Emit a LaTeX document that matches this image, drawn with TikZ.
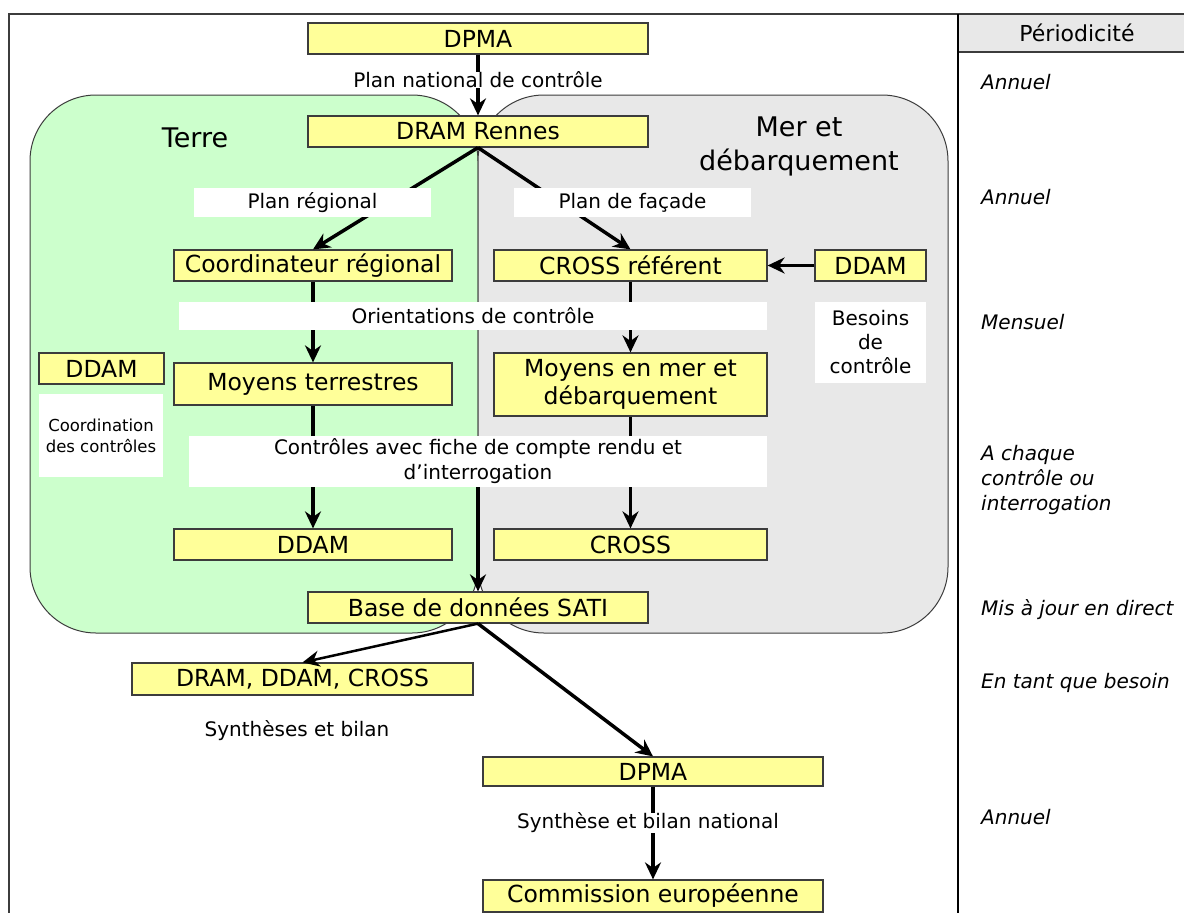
\documentclass[tikz,border=0pt]{standalone}
\usepackage{fontspec}
\setmainfont{DejaVu Sans}
\usetikzlibrary{arrows.meta}

\definecolor{boxyellow}{HTML}{FFFF99}
\definecolor{landgreen}{HTML}{CCFFCC}
\definecolor{seagray}{HTML}{E8E8E8}
\definecolor{edgegray}{HTML}{3C3C3C}

\tikzset{
  ybox/.style={draw=edgegray, line width=1.2pt, fill=boxyellow, inner sep=0pt,
    minimum height=31pt, font=\fontsize{23.5}{28}\selectfont, align=center},
  wbox/.style={fill=white, inner sep=0pt, font=\fontsize{20}{25}\selectfont, align=center},
  period/.style={anchor=west, align=left, inner sep=0pt, font=\fontsize{20}{25}\selectfont\itshape},
  flow/.style={line width=3.5pt, -{Stealth[length=17pt,width=16pt]}},
  zone/.style={draw=edgegray, line width=1pt, rounded corners=66pt},
}

\begin{document}
\begin{tikzpicture}[x=1pt,y=-1pt]
	\useasboundingbox (0,0) rectangle (1184,913);
	\fill[white] (0,0) rectangle (1184,913);
	
	% zones
	\filldraw[zone, fill=landgreen] (30,95) rectangle (478,633);
	\filldraw[zone, fill=seagray] (478,95) rectangle (948,633);
	
	% frame and right column
	\fill[seagray] (958,14) rectangle (1184,52);
	\draw[edgegray, line width=1.3pt] (9,913) -- (9,14) -- (1184,14);
	\draw[edgegray, line width=1.3pt] (958,52) -- (1184,52);
	\draw[line width=2.5pt] (958,14) -- (958,913);
	
	\node[font=\fontsize{27}{33}\selectfont] (terre) at (195,138) {Terre};
	\node[font=\fontsize{27}{34}\selectfont, align=center] (mer) at (799,146) {Mer et\\débarquement};
	
	% boxes
	\node[ybox, minimum width=340pt] (dpma) at (478,38.5) {DPMA};
	\node[ybox, minimum width=340pt] (dram) at (478,131.5) {DRAM Rennes};
	\node[ybox, minimum width=278pt] (coord) at (313,265.5) {Coordinateur régional};
	\node[ybox, minimum width=273pt] (crossref) at (630.5,265.5) {CROSS référent};
	\node[ybox, minimum width=111pt] (ddamr) at (870.5,265.5) {DDAM};
	\node[ybox, minimum width=125pt] (ddaml) at (101.5,368.5) {DDAM};
	\node[ybox, minimum width=278pt, minimum height=42pt] (moyter) at (313,384) {Moyens terrestres};
	\node[ybox, minimum width=273pt, minimum height=63pt] (moymer) at (630.5,384.5) {Moyens en mer et\\débarquement};
	\node[ybox, minimum width=278pt] (ddamb) at (313,544.5) {DDAM};
	\node[ybox, minimum width=273pt] (cross) at (630.5,544.5) {CROSS};
	\node[ybox, minimum width=340pt] (sati) at (478,607.5) {Base de données SATI};
	\node[ybox, minimum width=341pt, minimum height=32pt] (dramlist) at (302.5,679) {DRAM, DDAM, CROSS};
	\node[ybox, minimum width=340pt, minimum height=29pt] (dpmab) at (653,771.5) {DPMA};
	\node[ybox, minimum width=340pt, minimum height=32pt] (commission) at (653,896) {Commission européenne};
	
	% arrows
	\draw[flow] (dpma) -- (dram);
	\draw[flow] (dram.south) -- (coord.north);
	\draw[flow] (dram.south) -- (crossref.north);
	\draw[flow] (ddamr) -- (crossref);
	\draw[flow] (coord) -- (moyter);
	\draw[flow] (crossref) -- (moymer);
	\draw[flow] (moyter) -- (ddamb);
	\draw[flow] (moymer) -- (cross);
	\draw[flow, line width=2.5pt] (sati.south) -- (dramlist.north);
	\draw[flow] (sati.south) -- (dpmab.north);
	\draw[flow] (dpmab) -- (commission);
	
	% labels
	\node[wbox, inner xsep=3pt] (plannat) at (478,80) {Plan national de contrôle};
	\node[wbox, minimum width=237pt, minimum height=29pt] (planreg) at (312.5,202.5) {Plan régional};
	\node[wbox, minimum width=237pt, minimum height=29pt] (planfac) at (632.5,202.5) {Plan de façade};
	\node[wbox, minimum width=588pt, minimum height=28pt] (orient) at (473,316) {Orientations de contrôle};
	\node[wbox, minimum width=111pt, minimum height=81pt, font=\fontsize{20}{24}\selectfont] (besoins) at (870.5,342.5) {Besoins\\de\\contrôle};
	\node[wbox, minimum width=124pt, minimum height=83pt, font=\fontsize{16.5}{21}\selectfont] (coordctl) at (101,435.5) {Coordination\\des contrôles};
	\node[wbox, minimum width=578pt, minimum height=51pt] (controles) at (478,461.5) {Contrôles avec fiche de compte rendu et\\d’interrogation};
	\node[wbox] (synth) at (297,731) {Synthèses et bilan};
	\node[wbox, inner xsep=3pt] (synthnat) at (648,823) {Synthèse et bilan national};
	
	\draw[flow] (controles) -- (sati);
	
	% periodicity
	\node[font=\fontsize{22}{26}\selectfont] (perhead) at (1077,33) {Périodicité};
	\node[period] (p1) at (981,82) {Annuel};
	\node[period] (p2) at (981,197) {Annuel};
	\node[period] (p3) at (981,322) {Mensuel};
	\node[period] (p4) at (981,480) {A chaque\\contrôle ou\\interrogation};
	\node[period] (p5) at (981,610) {Mis à jour en direct};
	\node[period] (p6) at (981,683) {En tant que besoin};
	\node[period] (p7) at (981,817) {Annuel};
\end{tikzpicture}
\end{document}
